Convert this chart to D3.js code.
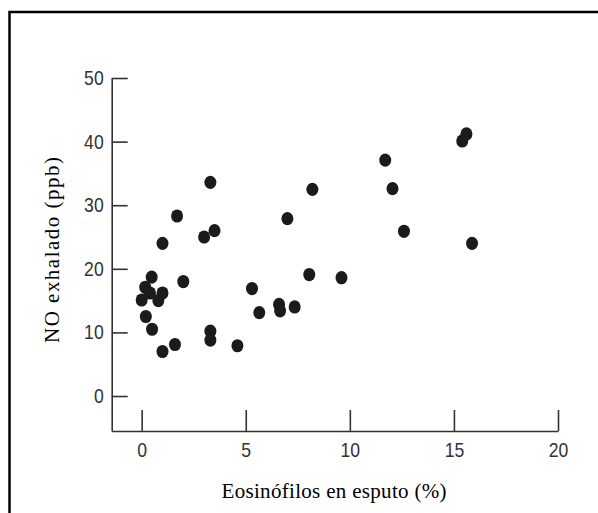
<!DOCTYPE html>
<html>
<head>
<meta charset="utf-8">
<script src="https://cdn.jsdelivr.net/npm/d3@7"></script>
<style>
  html, body { margin: 0; padding: 0; background: #fff; }
  svg { display: block; }
</style>
</head>
<body>
<svg id="chart" width="598" height="513"></svg>
<script>
// Sputum eosinophils (%) vs exhaled NO (ppb), one value per subject
const eosinophils = [0.0, 0.17, 0.4, 0.48, 0.8, 1.0, 0.2, 0.5, 1.0, 1.6,
                     1.0, 1.7, 2.0, 3.0, 3.3, 3.5, 3.3, 3.3, 4.6, 5.3,
                     5.65, 6.6, 6.65, 7.0, 7.35, 8.05, 8.2, 9.6, 11.7, 12.05,
                     12.6, 15.4, 15.6, 15.87];
const exhaledNO   = [15.1, 17.1, 16.2, 18.7, 15.0, 16.2, 12.5, 10.5, 7.0, 8.1,
                     24.0, 28.3, 18.0, 25.0, 33.6, 26.0, 10.2, 8.8, 7.9, 16.9,
                     13.1, 14.4, 13.4, 27.9, 14.0, 19.1, 32.5, 18.6, 37.1, 32.6,
                     25.9, 40.1, 41.2, 24.0];

const xTicks = [0, 5, 10, 15, 20];
const yTicks = [0, 10, 20, 30, 40, 50];

const xTitle = "Eosinófilos en esputo (%)";
const yTitle = "NO exhalado (ppb)";

const svg = d3.select("#chart");

// outer frame
svg.append("rect")
  .attr("x", 9.5).attr("y", 12)
  .attr("width", 620).attr("height", 540)
  .attr("fill", "none")
  .attr("stroke", "#000")
  .attr("stroke-width", 2.5);

const x = d3.scaleLinear().domain([-1.44, 20]).range([111.7, 558]);
const y = d3.scaleLinear().domain([-5.5, 50]).range([431, 78]);

const axisColor = "#333";
const tickFont = "'Liberation Sans', Arial, sans-serif";
const narrow = 0.88; // condensed tick digits

// x axis: ticks point up into the plot
const gx = svg.append("g")
  .attr("transform", `translate(0,${y(-5.5)})`)
  .call(d3.axisBottom(x).tickValues(xTicks).tickFormat(d3.format("d"))
    .tickSizeInner(-21).tickSizeOuter(0).tickPadding(12));

// y axis: ticks point right into the plot
const gy = svg.append("g")
  .attr("transform", `translate(${x(-1.44)},0)`)
  .call(d3.axisLeft(y).tickValues(yTicks).tickFormat(d3.format("d"))
    .tickSizeInner(-16).tickSizeOuter(0).tickPadding(8 / narrow));

[gx, gy].forEach(g => {
  g.select(".domain").attr("stroke", axisColor).attr("stroke-width", 1.6);
  g.selectAll(".tick line").attr("stroke", axisColor).attr("stroke-width", 1.6);
  g.selectAll(".tick text")
    .attr("fill", axisColor)
    .attr("transform", `scale(${narrow},1)`)
    .style("font-family", tickFont)
    .style("font-size", "20px");
});

// points
svg.append("g")
  .selectAll("ellipse")
  .data(eosinophils.map((e, i) => ({ e, no: exhaledNO[i] })))
  .join("ellipse")
  .attr("cx", d => x(d.e))
  .attr("cy", d => y(d.no))
  .attr("rx", 6)
  .attr("ry", 6.6)
  .attr("fill", "#1b1b1b");

const titleFont = "'Liberation Serif', 'Times New Roman', serif";

// axis titles
svg.append("text")
  .attr("x", 334).attr("y", 498)
  .attr("text-anchor", "middle")
  .attr("textLength", 225)
  .attr("lengthAdjust", "spacing")
  .style("font-family", titleFont)
  .style("font-size", "21px")
  .attr("fill", "#000")
  .text(xTitle);

svg.append("text")
  .attr("transform", "translate(59,250) rotate(-90)")
  .attr("text-anchor", "middle")
  .attr("textLength", 186)
  .attr("lengthAdjust", "spacing")
  .style("font-family", titleFont)
  .style("font-size", "21px")
  .attr("fill", "#000")
  .text(yTitle);
</script>
</body>
</html>
